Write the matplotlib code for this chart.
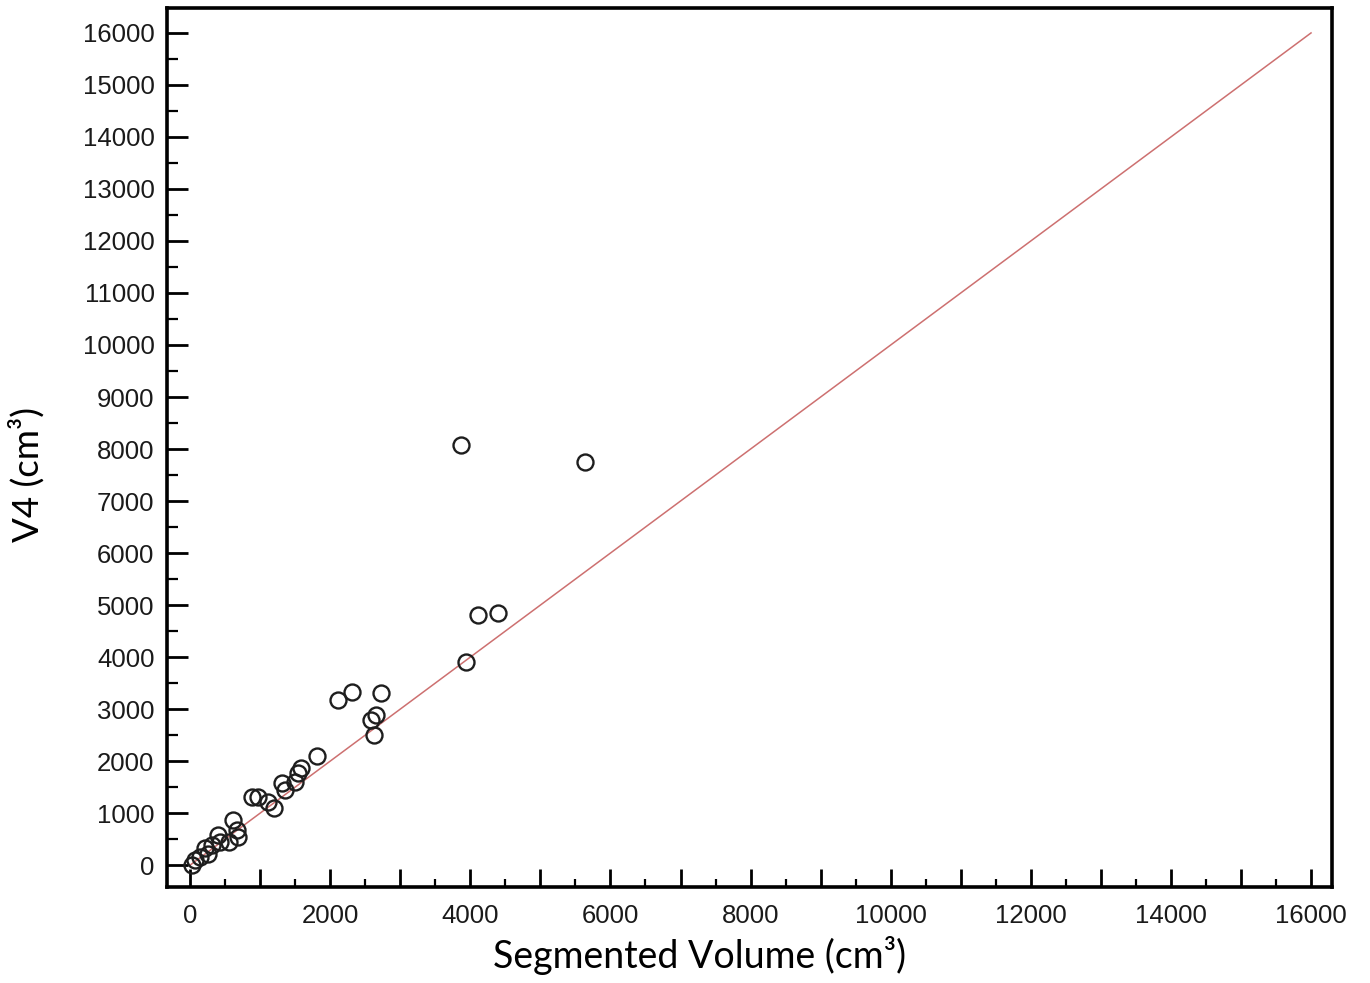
import numpy as np
import matplotlib.pyplot as plt
from matplotlib.ticker import MultipleLocator

seg_volume = [24, 71, 143, 214, 262, 309, 404, 428, 548, 619, 666, 690,
              880, 975, 1109, 1199, 1356, 1309, 1499, 1546, 1580, 1808,
              2117, 2310, 2722, 2655, 2580, 2626, 3940, 3866, 4108, 4398,
              5633]
v4_volume = [0, 96, 160, 321, 223, 385, 577, 446, 446, 865, 673, 545,
             1314, 1314, 1218, 1090, 1442, 1570, 1600, 1762, 1870, 2096,
             3170, 3335, 3305, 2885, 2785, 2495, 3898, 8077, 4808, 4843,
             7747]
identity = [0, 16000]


def main():
    fig = plt.figure(figsize=(13.7, 9.83), dpi=100)
    ax = fig.add_axes([0.1219, 0.0977, 0.8504, 0.8942])

    ax.plot(identity, identity, color="#cd7070", linewidth=1.1, zorder=1)
    ax.plot(seg_volume, v4_volume, linestyle="none", marker="o",
            markersize=11.5, markerfacecolor="none",
            markeredgecolor="#1e1e1e", markeredgewidth=1.7, zorder=2)

    ax.set_xlim(-330, 16300)
    ax.set_ylim(-420, 16480)

    ax.xaxis.set_minor_locator(MultipleLocator(500))
    ax.yaxis.set_minor_locator(MultipleLocator(500))
    ax.set_xticks(np.arange(0, 16001, 1000))
    ax.set_xticklabels([str(v) if v % 2000 == 0 else ""
                        for v in range(0, 16001, 1000)])
    ax.set_yticks(np.arange(0, 16001, 1000))

    for s in ax.spines.values():
        s.set_linewidth(2.6)
    ax.tick_params(which="major", direction="in", length=15, width=2.0,
                   labelsize=18.5, pad=9)
    ax.tick_params(which="minor", direction="in", length=8, width=1.6)
    ax.tick_params(axis="x", which="major", length=13, pad=12)
    ax.tick_params(axis="x", which="minor", length=6)
    for lab in ax.get_xticklabels() + ax.get_yticklabels():
        lab.set_fontfamily("Liberation Sans")
        lab.set_color("#1a1a1a")

    ax.set_xlabel("Segmented Volume (cm³)", fontsize=27,
                  fontfamily="Lato")
    ax.xaxis.set_label_coords(0.4575, -0.056)
    ax.set_ylabel("V4 (cm³)", fontsize=26.5, fontfamily="Lato")
    ax.yaxis.set_label_coords(-0.105, 0.469)

    return fig, ax


if __name__ == "__main__":
    fig, _ = main()
    fig.savefig("out.png", dpi=100)
